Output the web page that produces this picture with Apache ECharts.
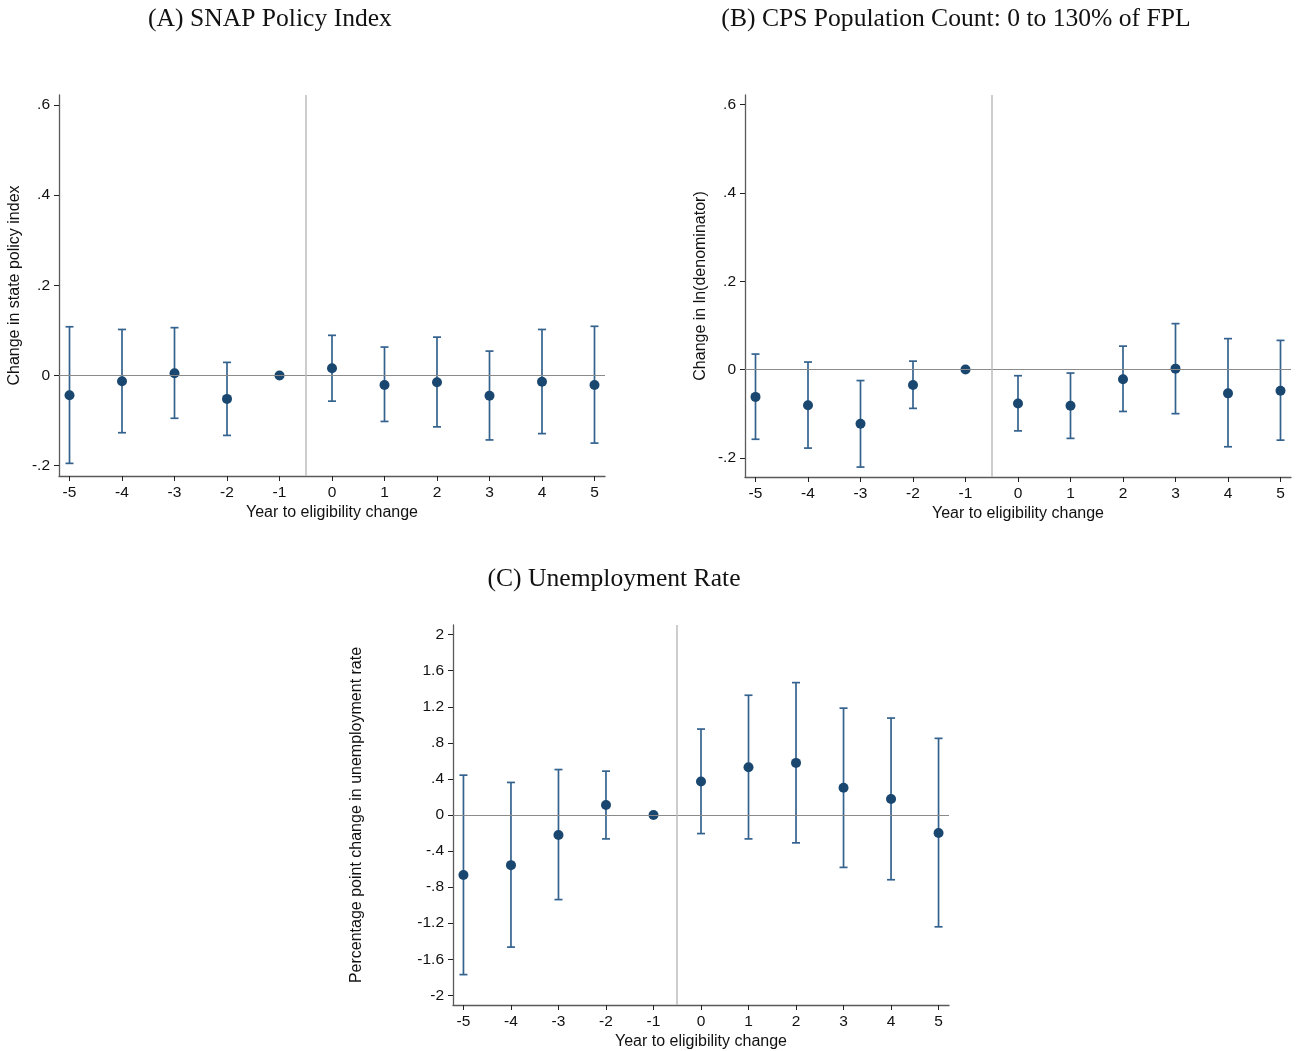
<!DOCTYPE html>
<html>
<head>
<meta charset="utf-8">
<script src="https://cdn.jsdelivr.net/npm/echarts@6/dist/echarts.min.js"></script>
<style>
html,body{margin:0;padding:0;background:#fff;}
#chart{width:1301px;height:1051px;}
</style>
</head>
<body>
<div id="chart"></div>
<script>
// Event-time categories
const years = [-5, -4, -3, -2, -1, 0, 1, 2, 3, 4, 5];

// (A) SNAP Policy Index
const aPoint = [-0.044, -0.013, 0.005, -0.052, 0, 0.016, -0.021, -0.015, -0.045, -0.014, -0.021];
const aLow   = [-0.195, -0.127, -0.095, -0.133, null, -0.057, -0.102, -0.114, -0.143, -0.129, -0.150];
const aHigh  = [0.108, 0.102, 0.106, 0.029, null, 0.089, 0.063, 0.085, 0.054, 0.102, 0.109];

// (B) CPS Population Count
const bPoint = [-0.062, -0.081, -0.123, -0.035, 0, -0.077, -0.082, -0.022, 0.002, -0.054, -0.048];
const bLow   = [-0.158, -0.178, -0.221, -0.088, null, -0.139, -0.156, -0.095, -0.100, -0.175, -0.160];
const bHigh  = [0.035, 0.017, -0.025, 0.019, null, -0.014, -0.008, 0.053, 0.104, 0.070, 0.066];

// (C) Unemployment Rate
const cPoint = [-0.666, -0.556, -0.221, 0.110, 0, 0.372, 0.530, 0.578, 0.302, 0.177, -0.199];
const cLow   = [-1.770, -1.465, -0.938, -0.265, null, -0.206, -0.265, -0.309, -0.581, -0.718, -1.240];
const cHigh  = [0.442, 0.361, 0.504, 0.486, null, 0.953, 1.328, 1.468, 1.185, 1.075, 0.850];

// Tick labels
const xTicks = [-5, -4, -3, -2, -1, 0, 1, 2, 3, 4, 5];
const yTicksAB = [-0.2, 0, 0.2, 0.4, 0.6];
const yTicksC = [-2, -1.6, -1.2, -0.8, -0.4, 0, 0.4, 0.8, 1.2, 1.6, 2];

const titles = ['(A) SNAP Policy Index', '(B) CPS Population Count: 0 to 130% of FPL', '(C) Unemployment Rate'];
const yNames = ['Change in state policy index', 'Change in ln(denominator)', 'Percentage point change in unemployment rate'];
const xName = 'Year to eligibility change';

const NAVY = '#1a476f';
const BAR = '#34628e';
const AXIS = '#5a5a5a';
const sans = 'Liberation Sans, Arial, sans-serif';
const serif = 'Liberation Serif, serif';

function fmt(v) {
  if (Math.abs(v) < 1e-9) return '0';
  let s = String(Math.round(v * 100) / 100);
  return s.replace(/^(-?)0\./, '$1.');
}

const grids = [
  {left: 59, top: 95, width: 546, height: 381},
  {left: 745, top: 95, width: 546, height: 382},
  {left: 453, top: 625, width: 496, height: 382}
];
const xr = [[-5.2, 5.2], [-5.2, 5.2], [-5.22, 5.22]];
const yr = [[-0.223, 0.622], [-0.2435, 0.622], [-2.107, 2.107]];
const yTicks = [yTicksAB, yTicksAB, yTicksC];
const nameGaps = [36, 36, 88];
const panels = [[aPoint, aLow, aHigh], [bPoint, bLow, bHigh], [cPoint, cLow, cHigh]];

const xAxes = [], yAxes = [], series = [];
for (let i = 0; i < 3; i++) {
  xAxes.push({
    type: 'value', gridIndex: i, min: xr[i][0], max: xr[i][1],
    name: xName, nameLocation: 'middle', nameGap: 29,
    nameTextStyle: {fontFamily: sans, fontSize: 16, color: '#111'},
    axisLine: {show: true, onZero: false, lineStyle: {color: AXIS, width: 1.3}},
    axisTick: {show: true, length: 5, customValues: xTicks, lineStyle: {color: '#222'}},
    axisLabel: {customValues: xTicks, fontFamily: sans, fontSize: 15.5, color: '#111', margin: 9,
      formatter: v => String(Math.round(v))},
    splitLine: {show: false}
  });
  yAxes.push({
    type: 'value', gridIndex: i, min: yr[i][0], max: yr[i][1],
    name: yNames[i], nameLocation: 'middle', nameGap: nameGaps[i], nameRotate: 90,
    nameTextStyle: {fontFamily: sans, fontSize: 16, color: '#111'},
    axisLine: {show: true, onZero: false, lineStyle: {color: AXIS, width: 1.3}},
    axisTick: {show: true, length: 5, customValues: yTicks[i], lineStyle: {color: '#222'}},
    axisLabel: {customValues: yTicks[i], fontFamily: sans, fontSize: 15.5, color: '#111', margin: 9,
      formatter: v => fmt(v)},
    splitLine: {show: false}
  });
  const [pt, lo, hi] = panels[i];
  const barData = years.map((y, k) => [y, lo[k], hi[k]]).filter(d => d[1] !== null);
  series.push({
    type: 'custom', xAxisIndex: i, yAxisIndex: i, z: 3,
    data: barData,
    encode: {x: 0, y: [1, 2]},
    renderItem: function (params, api) {
      const x = api.value(0);
      const p1 = api.coord([x, api.value(1)]);
      const p2 = api.coord([x, api.value(2)]);
      const hw = 4;
      const st = {stroke: BAR, lineWidth: 1.7};
      return {type: 'group', children: [
        {type: 'line', shape: {x1: p1[0], y1: p1[1], x2: p2[0], y2: p2[1]}, style: st},
        {type: 'line', shape: {x1: p1[0] - hw, y1: p1[1], x2: p1[0] + hw, y2: p1[1]}, style: st},
        {type: 'line', shape: {x1: p2[0] - hw, y1: p2[1], x2: p2[0] + hw, y2: p2[1]}, style: st}
      ]};
    }
  });
  series.push({
    type: 'scatter', xAxisIndex: i, yAxisIndex: i, z: 4,
    symbol: 'circle', symbolSize: 10,
    itemStyle: {color: NAVY, opacity: 1},
    data: years.map((y, k) => [y, pt[k]]),
    markLine: {
      silent: true, symbol: 'none', animation: false,
      label: {show: false},
      data: [
        {yAxis: 0, lineStyle: {color: '#8a8a8a', width: 1.2, type: 'solid'}},
        {xAxis: -0.5, lineStyle: {color: '#bdbdbd', width: 1.5, type: 'solid'}}
      ]
    }
  });
}

const chart = echarts.init(document.getElementById('chart'), null, {renderer: 'canvas'});
const tStyle = {fontFamily: serif, fontSize: 25.6, fontWeight: 'normal', color: '#111'};
chart.setOption({
  backgroundColor: '#fff',
  animation: false,
  title: [
    {text: titles[0], left: 265, top: 1, textAlign: 'center', textStyle: tStyle},
    {text: titles[1], left: 951, top: 1, textAlign: 'center', textStyle: tStyle},
    {text: titles[2], left: 609, top: 561, textAlign: 'center', textStyle: tStyle}
  ],
  grid: grids,
  xAxis: xAxes,
  yAxis: yAxes,
  series: series
});
</script>
</body>
</html>
